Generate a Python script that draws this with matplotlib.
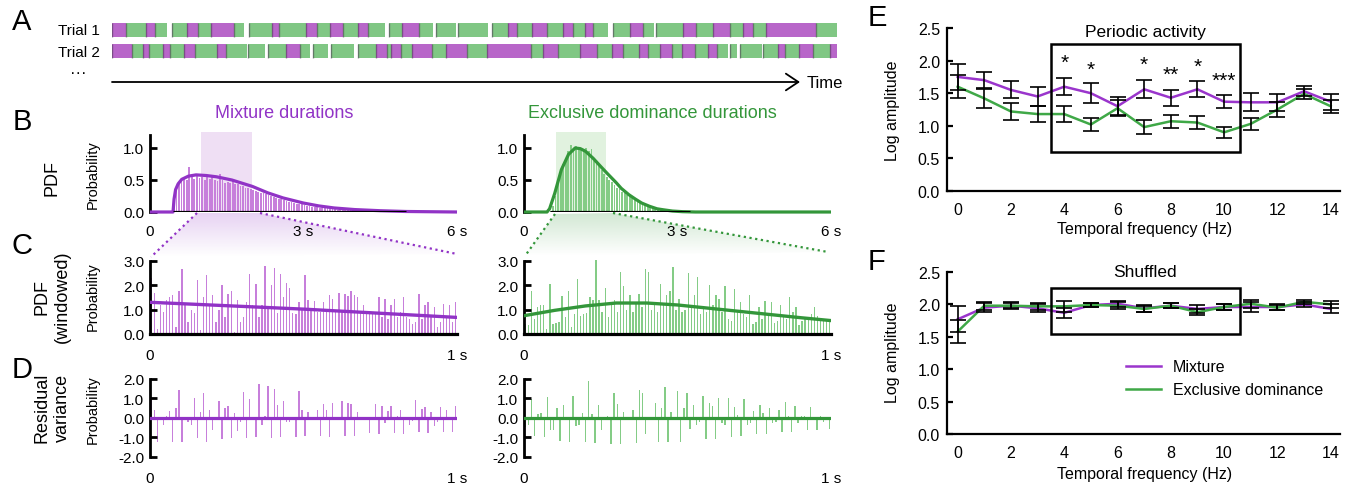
import numpy as np
import matplotlib
matplotlib.use("Agg")
import matplotlib.pyplot as plt
from matplotlib.patches import Rectangle, Polygon
from matplotlib.lines import Line2D
from matplotlib.colors import to_rgb

plt.rcParams['font.family'] = ['Liberation Sans', 'DejaVu Sans']

W, H = 1352, 485

PURPLE = '#9133c6'
GREEN = '#33963a'
PURPLE_BAR = '#c77fdb'
GREEN_BAR = '#84cc86'
MAG_A = '#b866c9'
GRN_A = '#80c784'
E_PURPLE = '#9a35cc'
E_GREEN = '#3fa847'

# ---------------- data ----------------
# A: percept segments on the trial timeline (start, end, state); M = mixture, G = exclusive
trial1_segments = [
    (0, 14, 'M'), (14, 34, 'G'), (34, 43, 'M'), (43, 55, 'G'), (60, 75, 'G'), (75, 86, 'M'),
    (86, 99, 'G'), (99, 122, 'M'), (122, 132, 'G'), (137, 160, 'G'), (160, 167, 'M'),
    (167, 194, 'G'), (194, 205, 'M'), (205, 218, 'G'), (218, 231, 'M'), (231, 246, 'G'),
    (246, 256, 'M'), (256, 273, 'G'), (277, 290, 'G'), (290, 307, 'M'), (307, 321, 'G'),
    (324, 344, 'G'), (346, 376, 'G'), (380, 396, 'G'), (396, 405, 'M'), (405, 420, 'G'),
    (420, 435, 'M'), (435, 451, 'G'), (451, 461, 'M'), (461, 473, 'G'), (473, 481, 'M'),
    (481, 496, 'G'), (501, 518, 'G'), (518, 531, 'M'), (531, 542, 'G'), (544, 571, 'G'),
    (571, 584, 'M'), (584, 601, 'G'), (601, 618, 'M'), (618, 631, 'G'), (631, 641, 'M'),
    (641, 654, 'G'), (654, 704, 'M'), (704, 725, 'G'),
]
trial2_segments = [
    (0, 20, 'M'), (20, 31, 'G'), (31, 37, 'M'), (37, 51, 'G'), (51, 58, 'M'), (58, 72, 'G'),
    (72, 83, 'M'), (83, 105, 'G'), (105, 114, 'M'), (114, 135, 'G'), (136, 153, 'G'),
    (156, 174, 'G'), (174, 188, 'M'), (188, 198, 'G'), (201, 216, 'G'), (219, 242, 'G'),
    (246, 264, 'G'), (264, 275, 'M'), (275, 279, 'G'), (279, 289, 'M'), (289, 300, 'G'),
    (300, 320, 'M'), (320, 334, 'G'), (334, 355, 'M'), (355, 375, 'G'), (375, 419, 'M'),
    (419, 431, 'G'), (431, 446, 'M'), (446, 468, 'G'), (468, 485, 'M'), (485, 500, 'G'),
    (500, 511, 'M'), (511, 527, 'G'), (527, 536, 'M'), (536, 548, 'G'), (548, 560, 'M'),
    (560, 570, 'G'), (570, 583, 'M'), (583, 596, 'G'), (596, 605, 'M'), (605, 616, 'G'),
    (618, 625, 'G'), (628, 650, 'G'), (651, 666, 'G'), (666, 673, 'M'), (673, 687, 'G'),
    (687, 701, 'M'), (701, 718, 'G'), (718, 725, 'M'),
]

# B: duration histograms (0.05 s bins) and fitted PDFs
bin_width = 0.05
mix_hist_start = 0.45
mix_hist = [0.15, 0.38, 0.45, 0.48, 0.52, 0.50, 0.70, 0.55, 0.52, 0.56, 0.53, 0.55, 0.50, 0.54,
            0.52, 0.57, 0.50, 0.48, 0.59, 0.50, 0.46, 0.47, 0.45, 0.49, 0.43, 0.44, 0.41, 0.40,
            0.38, 0.37, 0.36, 0.35, 0.33, 0.32, 0.30, 0.29, 0.28, 0.26, 0.25, 0.24, 0.22, 0.21,
            0.20, 0.19, 0.17, 0.16, 0.15, 0.14, 0.13, 0.12, 0.12, 0.11, 0.10, 0.09, 0.085, 0.08,
            0.075, 0.07, 0.065, 0.06, 0.055, 0.05, 0.046, 0.042, 0.038, 0.035, 0.032, 0.029,
            0.026, 0.024, 0.022, 0.02, 0.018, 0.016, 0.015, 0.014, 0.013, 0.012, 0.011, 0.01,
            0.009, 0.008, 0.008, 0.007, 0.006, 0.006, 0.005, 0.005, 0.004, 0.004, 0.003]
mix_fit_x = [0, 0.45, 0.47, 0.5, 0.55, 0.62, 0.75, 0.9, 1.1, 1.3, 1.6, 2.0, 2.3, 2.6, 3.0,
             3.3, 3.6, 4.0, 4.5, 5.0, 6.0]
mix_fit_y = [0, 0, 0.2, 0.35, 0.44, 0.51, 0.56, 0.58, 0.57, 0.55, 0.5, 0.4, 0.3, 0.22, 0.14,
             0.095, 0.063, 0.038, 0.02, 0.008, 0]
mix_window = (1.0, 2.0)

exc_hist_start = 0.5
exc_hist = [0.02, 0.1, 0.25, 0.45, 0.6, 0.75, 0.85, 0.95, 1.05, 1.0, 1.03, 0.98, 1.0, 0.97,
            1.0, 0.96, 0.98, 0.8, 0.75, 0.72, 0.65, 0.6, 0.55, 0.5, 0.47, 0.42, 0.38, 0.36,
            0.32, 0.3, 0.27, 0.25, 0.22, 0.2, 0.18, 0.15, 0.13, 0.11, 0.1, 0.08, 0.07, 0.06,
            0.05, 0.04, 0.035, 0.03, 0.025, 0.02, 0.018, 0.015, 0.012, 0.01, 0.008, 0.006, 0.005]
exc_fit_x = [0, 0.45, 0.5, 0.6, 0.73, 0.87, 1.0, 1.1, 1.2, 1.35, 1.5, 1.63, 1.8, 1.9, 2.05,
             2.18, 2.3, 2.45, 2.6, 2.72, 2.9, 3.1, 3.35, 6.0]
exc_fit_y = [0, 0, 0.05, 0.29, 0.66, 0.9, 1.0, 0.99, 0.95, 0.84, 0.71, 0.6, 0.46, 0.37, 0.27,
             0.2, 0.14, 0.09, 0.05, 0.035, 0.015, 0.005, 0, 0]
exc_window = (0.63, 1.6)

# C: windowed PDFs (10 ms bins over 1 s) and fitted curves
mix_win = [2.3, 1.7, 0.2, 1.2, 0.9, 1.4, 1.5, 1.6, 0.3, 1.75, 2.65, 1.2, 0.5, 1.0, 0.85, 2.2,
           0.15, 1.5, 2.4, 1.2, 1.6, 0.5, 1.0, 2.0, 0.7, 1.65, 1.75, 0.1, 1.4, 0.5, 0.7, 1.3,
           2.45, 1.2, 2.05, 0.7, 1.2, 2.8, 1.1, 2.0, 2.7, 0.85, 2.45, 1.5, 2.1, 1.9, 0.85, 0.8,
           1.3, 1.0, 2.4, 1.4, 1.0, 1.35, 0.9, 0.9, 1.3, 1.0, 1.6, 1.45, 0.9, 1.7, 1.0, 1.65,
           1.55, 1.75, 1.6, 1.5, 0.85, 1.2, 0.85, 0.8, 0.8, 0.9, 1.5, 0.7, 1.45, 0.6, 1.2, 1.45,
           0.7, 0.9, 1.5, 0.7, 0.6, 0.4, 0.5, 1.65, 0.6, 1.2, 1.3, 0.7, 1.1, 0.3, 0.5, 1.25,
           0.7, 1.2, 0.5, 1.3]
mix_win_fit_x = [0, 0.25, 0.5, 0.75, 1.0]
mix_win_fit_y = [1.3, 1.16, 1.02, 0.85, 0.68]

exc_win = [0.4, 0.35, 1.75, 0.6, 1.1, 1.2, 1.2, 0.2, 2.05, 0.4, 0.45, 0.5, 1.55, 0.7, 1.75,
           0.3, 0.8, 2.25, 0.75, 0.8, 0.85, 1.5, 1.4, 3.05, 1.4, 0.9, 1.9, 0.7, 1.3, 1.4, 0.9,
           2.55, 1.95, 1.0, 1.6, 0.9, 1.3, 1.65, 1.1, 2.65, 2.55, 1.0, 1.2, 0.9, 2.05, 1.2,
           1.6, 1.75, 2.75, 1.0, 1.45, 0.9, 1.0, 2.5, 1.1, 1.6, 2.35, 0.8, 1.15, 0.9, 2.0, 1.2,
           1.6, 1.45, 0.9, 1.95, 0.6, 0.55, 1.85, 0.9, 1.3, 0.8, 0.7, 1.6, 0.4, 0.5, 1.1, 0.6,
           1.35, 0.8, 1.3, 0.45, 0.55, 1.2, 0.7, 0.6, 1.5, 0.9, 1.1, 0.35, 0.55, 0.7, 0.7, 0.8,
           1.1, 0.75, 0.6, 0.55, 0.55, 0.6]
exc_win_fit_x = [0, 0.1, 0.2, 0.3, 0.4, 0.5, 0.6, 0.7, 0.8, 0.9, 1.0]
exc_win_fit_y = [0.75, 0.97, 1.15, 1.27, 1.27, 1.19, 1.06, 0.93, 0.8, 0.67, 0.55]

# D: residuals of the windowed PDFs
mix_resid = [1.0, 0.4, -1.25, 0.05, -0.35, 0.12, 0.35, -1.25, 0.5, 1.45, -1.25, 0.05, -0.2,
             -0.35, 1.0, -1.05, 0.3, 1.3, -1.25, 0.4, -0.6, -0.1, 0.85, -1.1, 0.5, 0.6, -1.05,
             0.27, -0.65, -0.2, 1.35, -1.05, 0.95, 0.05, -1.0, 1.75, -0.35, 0.1, 1.65, -1.05,
             1.5, 0.65, -1.0, 0.85, -0.2, -0.2, 0.05, -0.95, 1.4, 0.4, -0.9, 0.3, 0.02, 0.0,
             0.4, -0.9, 0.7, 0.4, -0.95, 0.75, 0.02, -0.05, 0.85, -0.9, 0.75, 0.7, -0.9, 0.3,
             0.05, -0.05, 0.02, -0.75, 0.05, 0.7, -0.8, 0.6, -0.25, 0.35, 0.6, -0.75, 0.1, 0.4,
             -0.8, 0.05, -0.35, -0.15, 0.9, -0.7, 0.45, 0.55, -0.75, 0.3, -0.4, -0.2, 0.55, -0.7,
             0.4, 0.05, -0.7, 0.6]
exc_resid = [-0.45, -0.35, 0.95, -0.9, 0.2, 0.27, -1.0, 1.1, -0.6, -0.6, 0.5, -1.2, 0.65,
             0.05, -1.25, 1.15, -0.4, -0.35, 0.27, -1.25, 1.9, 0.18, -1.3, 0.65, -0.6, 0.05,
             0.12, -1.35, 1.3, 0.7, -1.35, 0.3, 0.05, -0.05, 0.4, -1.3, 1.45, 1.3, -0.8, 0.05,
             -0.05, 0.78, -1.25, 0.5, 1.6, -1.25, 0.3, -0.1, 1.4, -1.25, 0.5, 1.3, -0.55, 0.65,
             -0.35, -0.2, 1.15, -1.1, 0.75, 0.6, -1.1, 1.0, -0.25, -0.35, 1.0, -0.95, 0.55, 0.15,
             -0.9, 0.95, -0.35, -0.25, 0.35, -0.8, 0.65, 0.25, -0.8, 0.5, -0.25, -0.2, 0.4, -0.7,
             0.8, 0.12, -0.7, 0.6, -0.25, 0.08, 0.12, -0.6, 0.55, 0.05, -0.6, 0.08, -0.2, 0.02,
             -0.55]

# E/F: spectra (log amplitude) per temporal frequency
freqs = np.arange(15)
e_mix = [1.75, 1.70, 1.55, 1.45, 1.60, 1.50, 1.30, 1.56, 1.43, 1.56, 1.37, 1.36, 1.36, 1.53, 1.37]
e_mix_err = [0.20, 0.12, 0.13, 0.14, 0.13, 0.15, 0.14, 0.14, 0.12, 0.12, 0.10, 0.14, 0.13, 0.08, 0.12]
e_exc = [1.60, 1.42, 1.22, 1.18, 1.18, 1.02, 1.27, 0.98, 1.07, 1.05, 0.90, 1.03, 1.25, 1.49, 1.30]
e_exc_err = [0.18, 0.15, 0.13, 0.12, 0.12, 0.10, 0.12, 0.11, 0.10, 0.10, 0.08, 0.09, 0.11, 0.08, 0.10]
star_freqs = [4, 5, 7, 8, 9, 10]
star_labels = ['*', '*', '*', '**', '*', '***']
star_y = [1.98, 1.87, 1.94, 1.79, 1.91, 1.70]

f_mix = [1.77, 1.95, 1.98, 1.94, 1.87, 1.99, 2.01, 1.94, 1.98, 1.93, 1.96, 1.96, 1.96, 2.00, 1.93]
f_mix_err = [0.20, 0.07, 0.05, 0.06, 0.08, 0.03, 0.05, 0.05, 0.04, 0.06, 0.04, 0.07, 0.04, 0.04, 0.07]
f_exc = [1.58, 1.98, 1.98, 1.97, 1.97, 1.99, 1.98, 1.93, 1.98, 1.88, 1.96, 2.01, 1.95, 2.04, 2.00]
f_exc_err = [0.18, 0.06, 0.04, 0.05, 0.08, 0.03, 0.05, 0.04, 0.04, 0.05, 0.04, 0.06, 0.04, 0.03, 0.06]

# ---------------- figure ----------------
fig = plt.figure(figsize=(W / 100, H / 100), dpi=100)
ov = fig.add_axes([0, 0, 1, 1])
ov.set_autoscale_on(False)
ov.set_xlim(0, W)
ov.set_ylim(H, 0)
ov.axis('off')


def px_axes(l, t, r, b):
    ax = fig.add_axes([l / W, 1 - b / H, (r - l) / W, (b - t) / H])
    ax.patch.set_visible(False)
    return ax


# ---- A ----
axA = px_axes(112, 20.5, 838, 62.5)
axA.set_xlim(0, 726)
axA.set_ylim(-0.5, 1.5)
axA.axis('off')
for row, segs in [(1, trial1_segments), (0, trial2_segments)]:
    for s, e, st in segs:
        axA.broken_barh([(s, e - s)], (row - 0.33, 0.66), facecolor=MAG_A if st == 'M' else GRN_A, lw=0)
        axA.vlines(s, row - 0.33, row + 0.33, color='#4a3a50', lw=1, alpha=0.55)
ov.annotate('', xy=(800, 83), xytext=(112, 83),
            arrowprops=dict(arrowstyle='->,head_length=0.45,head_width=0.3', lw=1.3, color='k',
                            mutation_scale=20, shrinkA=0, shrinkB=0))
ov.text(807, 83, 'Time', fontsize=12, va='center', ha='left')
ov.text(100, 31, 'Trial 1', fontsize=11, va='center', ha='right')
ov.text(100, 53, 'Trial 2', fontsize=11, va='center', ha='right')
ov.text(78, 73, '···', fontsize=12, va='center', ha='center')


def left_spine_style(ax, bounds, ticks, labels):
    for sp in ['top', 'right', 'bottom']:
        ax.spines[sp].set_visible(False)
    ax.spines['left'].set_linewidth(2)
    ax.spines['left'].set_bounds(*bounds)
    ax.set_yticks(ticks)
    ax.set_yticklabels(labels)
    ax.tick_params(axis='y', direction='in', length=5, width=2, pad=4, labelsize=11)


# ---- B ----
def dist_panel(l, start, hist, fit_x, fit_y, window, col, barcol, shade):
    ax = px_axes(l, 133, l + 307, 213)
    ax.set_xlim(0, 6)
    ax.set_ylim(0, 1.25)
    ax.add_patch(Rectangle((window[0], 0), window[1] - window[0], 1.25, color=shade, lw=0, zorder=0))
    x = start + np.arange(len(hist)) * bin_width
    ax.bar(x, hist, width=bin_width * 0.7, align='edge', color=barcol, lw=0, zorder=1)
    ax.plot(fit_x, fit_y, color=col, lw=2.3, zorder=3, solid_capstyle='butt', clip_on=False)
    ax.plot([x[0], x[-1] + bin_width], [0, 0], color='k', lw=2.3, zorder=4, solid_capstyle='butt')
    left_spine_style(ax, (0, 1.2), [0, 0.5, 1.0], ['0.0', '0.5', '1.0'])
    ax.set_xticks([0, 3, 6])
    ax.set_xticklabels(['0', '3 s', '6 s'])
    ax.tick_params(axis='x', length=0, pad=9, labelsize=11)
    return ax


dist_panel(150, mix_hist_start, mix_hist, mix_fit_x, mix_fit_y, mix_window, PURPLE, PURPLE_BAR, '#efdff4')
dist_panel(524, exc_hist_start, exc_hist, exc_fit_x, exc_fit_y, exc_window, GREEN, GREEN_BAR, '#e1f2df')


# ---- C ----
def window_panel(l, vals, fit_x, fit_y, col, barcol):
    ax = px_axes(l, 260.6, l + 307, 335)
    ax.set_xlim(0, 1)
    ax.set_ylim(0, 3.05)
    x = np.linspace(0.004, 0.996, len(vals))
    ax.bar(x, vals, width=0.0045, color=barcol, lw=0, zorder=1)
    ax.plot(fit_x, fit_y, color=col, lw=2.4, zorder=3)
    left_spine_style(ax, (0, 3), [0, 1, 2, 3], ['0.0', '1.0', '2.0', '3.0'])
    ax.spines['bottom'].set_visible(True)
    ax.spines['bottom'].set_linewidth(2.3)
    ax.set_xticks([0, 1])
    ax.set_xticklabels(['0', '1 s'])
    ax.tick_params(axis='x', length=0, pad=10, labelsize=11)


window_panel(150, mix_win, mix_win_fit_x, mix_win_fit_y, PURPLE, PURPLE_BAR)
window_panel(524, exc_win, exc_win_fit_x, exc_win_fit_y, GREEN, GREEN_BAR)


# ---- D ----
def resid_panel(l, resid, col, barcol):
    ax = px_axes(l, 379, l + 307, 458)
    ax.set_xlim(0, 1)
    ax.set_ylim(-2, 2.05)
    x = np.linspace(0.004, 0.996, len(resid))
    ax.bar(x, resid, width=0.0045, color=barcol, lw=0, zorder=1)
    ax.plot([0, 1], [0, 0], color=col, lw=2.3, zorder=3)
    left_spine_style(ax, (-2, 2), [-2, -1, 0, 1, 2], ['-2.0', '-1.0', '0.0', '1.0', '2.0'])
    ax.set_xticks([0, 1])
    ax.set_xticklabels(['0', '1 s'])
    ax.tick_params(axis='x', length=0, pad=10, labelsize=11)


resid_panel(150, mix_resid, PURPLE, PURPLE_BAR)
resid_panel(524, exc_resid, GREEN, GREEN_BAR)


# ---- zoom funnels between B and C ----
def funnel(pts, col):
    poly = Polygon(pts, closed=True, facecolor='none', edgecolor='none')
    ov.add_patch(poly)
    grad = np.zeros((64, 1, 4))
    grad[..., :3] = to_rgb(col)
    grad[:, 0, 3] = np.linspace(0.22, 0.0, 64)
    xs = [p[0] for p in pts]
    ys = [p[1] for p in pts]
    im = ov.imshow(grad, extent=(min(xs), max(xs), max(ys), min(ys)), aspect='auto',
                   interpolation='bilinear', zorder=0)
    im.set_clip_path(poly)
    ov.plot([pts[0][0], pts[3][0]], [pts[0][1], pts[3][1]], color=col, lw=1.6, ls=(0, (1, 1.6)))
    ov.plot([pts[1][0], pts[2][0]], [pts[1][1], pts[2][1]], color=col, lw=1.6, ls=(0, (1, 1.6)))


funnel([(197, 214), (260, 214), (457, 255), (151, 258)], PURPLE)
funnel([(555, 215), (613, 214), (828, 253), (525, 257)], GREEN)

# left-side labels
ov.text(22, 22, 'A', fontsize=21, ha='center', va='center')
ov.text(22, 122, 'B', fontsize=21, ha='center', va='center')
ov.text(22, 246, 'C', fontsize=21, ha='center', va='center')
ov.text(22, 370, 'D', fontsize=21, ha='center', va='center')
ov.text(52, 178, 'PDF', fontsize=13, rotation=90, ha='center', va='center')
ov.text(52, 297, 'PDF\n(windowed)', fontsize=13, rotation=90, ha='center', va='center', linespacing=1.25)
ov.text(52, 408, 'Residual\nvariance', fontsize=13, rotation=90, ha='center', va='center', linespacing=1.25)
for yc in [175, 297, 410]:
    ov.text(93, yc, 'Probability', fontsize=10.5, rotation=90, ha='center', va='center')
ov.text(284, 114, 'Mixture durations', fontsize=13, color=PURPLE, ha='center', va='center')
ov.text(652, 114, 'Exclusive dominance durations', fontsize=13, color=GREEN, ha='center', va='center')


# ---- E / F ----
def spectrum_panel(t, b, mix, mix_err, exc, exc_err, box):
    ax = px_axes(947, t, 1340, b)
    ax.set_xlim(-0.4, 14.35)
    ax.set_ylim(0, 2.5)
    ax.plot(freqs, mix, color=E_PURPLE, lw=1.8, zorder=2)
    ax.plot(freqs, exc, color=E_GREEN, lw=1.8, zorder=2)
    for m, e in [(mix, mix_err), (exc, exc_err)]:
        ax.errorbar(freqs, m, yerr=e, fmt='none', ecolor='k', elinewidth=1.2, capsize=5.5,
                    capthick=1.2, zorder=3)
    ax.add_patch(Rectangle((box[0], box[1]), box[2] - box[0], box[3] - box[1], fill=False,
                           lw=1.8, ec='k', zorder=4))
    for sp in ['top', 'right']:
        ax.spines[sp].set_visible(False)
    for sp in ['left', 'bottom']:
        ax.spines[sp].set_linewidth(1.6)
    ax.set_yticks(np.arange(0, 2.51, 0.5))
    ax.set_yticklabels(['0.0', '0.5', '1.0', '1.5', '2.0', '2.5'])
    ax.set_xticks(np.arange(0, 15, 2))
    ax.tick_params(axis='y', direction='in', length=4, width=1.6, pad=5, labelsize=11.5)
    ax.tick_params(axis='x', length=0, pad=8, labelsize=11.5)
    return ax


axE = spectrum_panel(29, 192, e_mix, e_mix_err, e_exc, e_exc_err, (3.5, 0.6, 10.6, 2.25))
for f, s, y in zip(star_freqs, star_labels, star_y):
    axE.text(f, y, s, ha='center', va='center', fontsize=15)
axF = spectrum_panel(273, 435, f_mix, f_mix_err, f_exc, f_exc_err, (3.5, 1.55, 10.6, 2.25))
axF.legend(handles=[Line2D([], [], color=E_PURPLE, lw=1.8), Line2D([], [], color=E_GREEN, lw=1.8)],
           labels=['Mixture', 'Exclusive dominance'], loc='upper left', bbox_to_anchor=(0.44, 0.5),
           frameon=False, fontsize=11.5, handlelength=2.2, handletextpad=0.7, labelspacing=0.5,
           borderaxespad=0)

ov.text(877, 18, 'E', fontsize=21, ha='center', va='center')
ov.text(877, 262, 'F', fontsize=21, ha='center', va='center')
ov.text(1145, 32, 'Periodic activity', fontsize=12.5, ha='center', va='center')
ov.text(1145, 273, 'Shuffled', fontsize=12.5, ha='center', va='center')
ov.text(1145, 230, 'Temporal frequency (Hz)', fontsize=11.5, ha='center', va='center')
ov.text(1145, 475, 'Temporal frequency (Hz)', fontsize=11.5, ha='center', va='center')
ov.text(893, 111, 'Log amplitude', fontsize=11.5, rotation=90, ha='center', va='center')
ov.text(893, 353, 'Log amplitude', fontsize=11.5, rotation=90, ha='center', va='center')

fig.savefig('out.png', dpi=100)
